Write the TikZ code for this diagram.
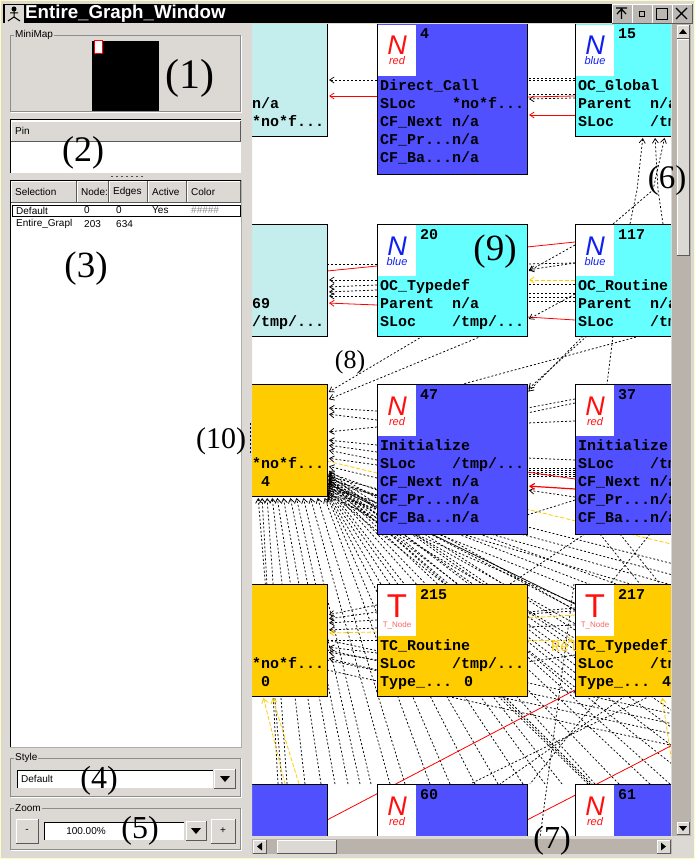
\documentclass[tikz,border=0pt]{standalone}
\usepackage{fontspec}
\setmainfont{Liberation Sans}
\newfontfamily\gfont{Liberation Mono}
\newfontfamily\numfont{Liberation Serif}
\usetikzlibrary{arrows.meta}
\pgfdeclarelayer{edges}
\pgfsetlayers{edges,main}
\definecolor{gblue}{HTML}{5050FF}
\definecolor{gcyan}{HTML}{66FFFF}
\definecolor{gpale}{HTML}{C4EEEE}
\definecolor{gyel}{HTML}{FFCC00}
\definecolor{uigray}{HTML}{DCD9D4}
\definecolor{uitrough}{HTML}{B9B3AB}
\definecolor{iconred}{HTML}{FF1010}
\definecolor{iconblue}{HTML}{1020F0}
\tikzset{
  gbox/.style={draw=black,line width=1pt,anchor=north west,minimum width=150pt,inner sep=0pt,outer sep=0pt},
  gicon/.style={fill=white,anchor=north west,minimum width=38pt,minimum height=51pt,inner sep=0pt,outer sep=0pt},
  gline/.style={anchor=base west,inner sep=0pt,font=\gfont\bfseries\fontsize{15}{18}\selectfont},
  gmark/.style={anchor=base,inner sep=0pt},
  gedge/.style={dash pattern=on 2pt off 2pt,line width=0.75pt},
  gtip/.style={-{Straight Barb[length=4.5pt,width=6pt]},shorten >=2pt},
  gred/.style={red,line width=0.8pt},
  gyell/.style={gyel,dash pattern=on 4pt off 2pt,line width=0.8pt},
  uilabel/.style={inner sep=0pt,anchor=west,font=\fontsize{10}{12}\selectfont},
  callout/.style={inner sep=0pt,font=\numfont\fontsize{#1}{#1}\selectfont},
}
\newcommand{\gd}{...}
\newcommand{\gnode}[6]{%
  \node[gbox,minimum height=#4pt,fill=#5] (#1) at (#2,#3) {};
  \foreach \gl [count=\gi] in {#6}
    \node[gline] (#1-l\gi) at ([shift={(3,{48+18*\gi})}]#1.north west) {\gl};
}
\newcommand{\gsign}[4]{%
  \node[gicon] (#1-icon) at ([shift={(1,1)}]#1.north west) {};
  \node[gmark,text=#2] (#1-sign) at ([shift={(20,31)}]#1.north west)
    {\itshape\makebox[0pt]{\fontsize{27}{27}\selectfont N}\raisebox{-10pt}{\makebox[0pt]{\fontsize{11}{11}\selectfont #3}}};
  \node[gline] (#1-num) at ([shift={(43,15)}]#1.north west) {#4};
}
\newcommand{\tsign}[2]{%
  \node[gicon] (#1-icon) at ([shift={(1,1)}]#1.north west) {};
  \node[gmark,text=iconred] (#1-sign) at ([shift={(20,33)}]#1.north west)
    {\makebox[0pt]{\fontsize{33}{33}\selectfont T}\raisebox{-10pt}{\makebox[0pt]{\color{iconred!65}\fontsize{8}{8}\selectfont T\_Node}}};
  \node[gline] (#1-num) at ([shift={(43,15)}]#1.north west) {#2};
}
\newcommand{\uibtn}[5][uigray]{%
  \fill[#1] (#2,#3) rectangle (#4,#5);
  \draw[white] (#2,#5) -- (#2,#3) -- (#4,#3);
  \draw[black!65] (#2,#5) -- (#4,#5) -- (#4,#3);
}
\newcommand{\uigroup}[5]{%
  \draw[black!45] (#1,#2) rectangle (#3,#4);
  \draw[white] (#1+1,#4+1) -- (#3+1,#4+1) -- (#3+1,#2+1);
  \node[uilabel,fill=uigray,inner xsep=1pt] (group#5) at (#1+4,#2) {#5};
}
\begin{document}
\begin{tikzpicture}[x=1pt,y=-1pt]
\useasboundingbox (0,0) rectangle (695,859);
\begin{pgfonlayer}{edges}
\fill[white] (252,24) rectangle (671,836);
\end{pgfonlayer}
\gnode{left1}{177}{24}{112}{gpale}{~,~~~~~~~~n/a,~~~~~~~~*no*f\gd}
\gnode{n4}{377}{24}{150}{gblue}{Direct\_Call,SLoc~~~~*no*f\gd,CF\_Next n/a,CF\_Pr\gd n/a,CF\_Ba\gd n/a}
\gsign{n4}{iconred}{red}{4}
\gnode{n15}{575}{24}{112}{gcyan}{OC\_Global,Parent~~n/a,SLoc~~~~/tm}
\gsign{n15}{iconblue}{blue}{15}
\gnode{n69}{177}{224}{112}{gpale}{~,~~~~~~~~69,~~~~~~~~/tmp/\gd}
\gnode{n20}{377}{224}{112}{gcyan}{OC\_Typedef,Parent~~n/a,SLoc~~~~/tmp/\gd}
\gsign{n20}{iconblue}{blue}{20}
\gnode{n117}{575}{224}{112}{gcyan}{OC\_Routine,Parent~~n/a,SLoc~~~~/tm}
\gsign{n117}{iconblue}{blue}{117}
\gnode{left3}{177}{384}{112}{gyel}{~,~~~~~~~~*no*f\gd,~~~~~~~~~4}
\gnode{n47}{377}{384}{150}{gblue}{Initialize,SLoc~~~~/tmp/\gd,CF\_Next n/a,CF\_Pr\gd n/a,CF\_Ba\gd n/a}
\gsign{n47}{iconred}{red}{47}
\gnode{n37}{575}{384}{150}{gblue}{Initialize,SLoc~~~~/tm,CF\_Next n/a,CF\_Pr\gd n/a,CF\_Ba\gd n/a}
\gsign{n37}{iconred}{red}{37}
\gnode{left4}{177}{584}{112}{gyel}{~,~~~~~~~~*no*f\gd,~~~~~~~~~0}
\gnode{n215}{377}{584}{112}{gyel}{TC\_Routine,SLoc~~~~/tmp/\gd,Type\_\gd{} 0}
\tsign{n215}{215}
\gnode{n217}{575}{584}{112}{gyel}{TC\_Typedef\_,SLoc~~~~/tm,Type\_\gd{} 4}
\tsign{n217}{217}
\gnode{left5}{177}{784}{150}{gblue}{~}
\gnode{n60}{377}{784}{150}{gblue}{~}
\gsign{n60}{iconred}{red}{60}
\gnode{n61}{575}{784}{150}{gblue}{~}
\gsign{n61}{iconred}{red}{61}
\begin{pgfonlayer}{edges}
\draw[gedge,gtip] (n4.west |- 0,80) -- (left1.east |- 0,80);
\draw[gred,gtip] (n4.west |- 0,96) -- (left1.east |- 0,96);
\foreach \ya in {78,80,94} \draw[gedge] (n15.west |- 0,\ya) -- (n4.east |- 0,\ya);
\draw[gedge,gtip] (n15.west |- 0,98) -- (n4.east |- 0,99);
\draw[gred] (n15.west |- 0,96) -- (n4.east |- 0,97);
\draw[gred,gtip] (n15.west |- 0,115) -- (n4.east |- 0,115);
\foreach \xa/\xb/\xm in {630/643/637,663/655/658,613/665/653}
  \draw[gedge,gtip] (\xa,0 |- n117.north) -- (\xm,190) -- (\xb,0 |- n15.south);
\draw[gedge] (n20.west |- 0,264) -- (n69.east |- 0,264);
\foreach \ya/\yb in {280/280,285/287,290/292,296/296}
  \draw[gedge,gtip] (n20.west |- 0,\ya) -- (n69.east |- 0,\yb);
\draw[gred] (n20.west |- 0,266) -- (n69.east |- 0,271);
\draw[gred,gtip] (n20.west |- 0,305) -- (n69.east |- 0,303);
\draw[gred] (n117.west |- 0,242) -- (n20.east |- 0,247);
\draw[gred] (n117.west |- 0,320) -- (n20.east |- 0,317);
\foreach \ya/\yb in {245/272,263/270,294/320}
  \draw[gedge,gtip] (n117.west |- 0,\ya) -- (n20.east |- 0,\yb);
\foreach \ya/\yb in {263/264,284/284,293/293,297/297,301/301}
  \draw[gedge] (n117.west |- 0,\ya) -- (n20.east |- 0,\yb);
\draw[gyell,gtip] (n117.west |- 0,280) -- (n20.east |- 0,280);
\draw[gedge,gtip] (423,0 |- n20.south) -- (left3.east |- 0,393);
\draw[gedge,gtip] (482,0 |- n20.south) -- (left3.east |- 0,400);
\foreach \xa/\ya in {587/390,583/393}
  \draw[gedge,gtip] (\xa,0 |- n117.south) -- (n47.east |- 0,\ya);
\draw[gedge] (640,0 |- n117.south) -- (463,0 |- n47.north);
\draw[gedge] (613,0 |- n117.south) -- (607,0 |- n37.north);
\foreach \ya/\yb in {427/432,445/440,452/445,460/450,465/458,478/466,490/472,495/478,411/408,420/414}
  \draw[gedge,gtip] (n47.west |- 0,\ya) -- (left3.east |- 0,\yb);
\draw[line width=0.7pt] (left3.east |- 0,483) -- (n217.west |- 0,604);
\foreach \ya/\yb in {403/413,399/408,421/423,460/458,468/468,470/470,472/472,474/474,476/476,500/515}
  \draw[gedge] (n37.west |- 0,\ya) -- (n47.east |- 0,\yb);
\draw[gedge,gtip] (n37.west |- 0,497) -- (n47.east |- 0,490);
\draw[gred] (n37.west |- 0,479) -- (n47.east |- 0,472);
\draw[gred,line width=1.2pt,gtip] (n37.west |- 0,489) -- (n47.east |- 0,486);
\draw[gyell] (left3.east |- 0,461) -- (n61.east |- 0,557);
\foreach \xa/\xb in {258/282,262/278,267/287,272/305,277/321,283/335,290/348,296/360,303/371,310/390,317/405,324/430}
  \draw[gedge,gtip] (\xb,0 |- left5.north) -- (\xa,0 |- left3.south);
\foreach \ya/\xb in {496/450,494/475,492/498,490/523,488/545,486/562,484/595,482/619,480/650,478/670}
  \draw[gedge,gtip] (\xb,0 |- n60.north) -- (left3.east |- 0,\ya);
\foreach \ya/\yb in {470/610,472/630,474/650,476/665,478/680,480/692}
  \draw[gedge,gtip] (n217.west |- 0,\yb) -- (left3.east |- 0,\ya);
\foreach \ya/\yb in {476/577,482/589,488/600,494/612,478/624,484/636,490/648,496/668,480/688,486/707,492/727,474/747,479/766,485/786,491/806}
  \draw[gedge] (n61.east |- 0,\yb) -- (left3.east |- 0,\ya);
\foreach \ya/\yb in {605/615,620/623,628/630,653/647,670/658,612/619,660/652}
  \draw[gedge,gtip] (n215.west |- 0,\ya) -- (left4.east |- 0,\yb);
\draw[gedge] (n215.west |- 0,640) -- (left4.east |- 0,640);
\draw[gyell,gtip] (n215.west |- 0,632) -- (left4.east |- 0,633);
\foreach \ya/\yb in {608/612,611/614,625/627,655/662}
  \draw[gedge] (n217.west |- 0,\ya) -- (n215.east |- 0,\yb);
\draw[gyell] (n217.west |- 0,615) -- (n215.east |- 0,618);
\draw[gyell,gtip] (n215.east |- 0,640) -- (n217.west |- 0,640);
\foreach \xa/\xb in {285/263,299/272}
  \draw[gyell,gtip] (\xa,0 |- left5.north) -- (\xb,0 |- left4.south);
\draw[gyell,gtip] (675,0 |- n61.north) -- (662,0 |- n217.south);
\draw[gred] (left5.east |- 0,820) -- (n217.west |- 0,690);
\draw[gred] (n60.east |- 0,820) -- (n61.east |- 0,718);
\draw[gedge] (574,0 |- n217.north) -- (527,0 |- n60.south);
\foreach \xa/\xb in {498/588,501/590,504/592}
  \draw[gedge] (\xa,0 |- n215.south) -- (\xb,0 |- n61.north);
\foreach \ya/\yb in {640/725,650/735,660/745,670/757}
  \draw[gedge] (left4.east |- 0,\ya) -- (n61.east |- 0,\yb);
\foreach \xa/\xb in {585/510,600/640,650/610,620/660}
  \draw[gedge] (\xa,0 |- n37.south) -- (\xb,0 |- n217.north);
\foreach \xa/\xb in {600/530,625/500,650/470}
  \draw[gedge] (\xa,0 |- n217.south) -- (\xb,0 |- n60.north);
\end{pgfonlayer}
\node[inner sep=0pt,anchor=base west,text=gyel,font=\gfont\fontsize{15}{18}\selectfont] (rel) at (551,651) {Rel};
\fill[uigray,even odd rule] (0,0) rectangle (695,859) (252,24) rectangle (671,836);
\draw[yellow!25,line width=2pt] (0,0) rectangle (695,859);
\fill[black] (3,4) rectangle (612,23);
\node[inner sep=0pt,anchor=west,text=white,font=\bfseries\fontsize{18.7}{19}\selectfont] (title) at (25,13.5) {Entire\_Graph\_Window};
\fill[uigray] (5,5) rectangle (24,23);
\fill[black] (14,9) circle (2.5);
\draw[black,line width=1pt] (14,11) -- (14,17) (8,21) -- (14,17) -- (20,21) (10,13) -- (18,13);
\foreach \xa in {612,632,652,672} \uibtn[uigray!85!black]{\xa}{4}{\xa+20}{23};
\draw[black,line width=1.2pt] (616,8) -- (627,8) (621.5,8) -- (621.5,19) (617,14) -- (621.5,9) -- (626,14);
\draw[black] (639,11) rectangle (644,16);
\draw[black,line width=0.8pt] (656,8) rectangle (667,19);
\draw[black,line width=1.3pt] (676,8) -- (687,19) (687,8) -- (676,19);
% minimap
\uigroup{10}{35}{240}{111}{MiniMap}
\fill[black] (92,41) rectangle (159,111);
\draw[red,fill=white,line width=1pt] (94.5,41) rectangle (102.5,54);
% pin
\fill[white] (10,119) rectangle (241,173);
\draw[black] (10,173) -- (10,119) -- (241,119);
\uibtn{11}{121}{240}{141}
\node[uilabel] (pin) at (15,131) {Pin};
\foreach \xa in {111,116,...,141} \fill[black!70] (\xa,175.5) rectangle (\xa+2,177);
% table
\fill[white] (10,180) rectangle (241,747);
\draw[black] (10,747) -- (10,180) -- (241,180);
\draw[uigray!80!black] (10,747) -- (241,747) -- (241,180);
\uibtn{11}{181}{76}{202}
\uibtn{77}{181}{108}{202}
\uibtn{109}{181}{147}{202}
\uibtn{148}{181}{186}{202}
\uibtn{187}{181}{240}{202}
\node[uilabel] (hselect) at (15,192) {Selection};
\node[uilabel] (hnodes) at (81,192) {Node:};
\node[uilabel] (hedges) at (113,192) {Edges};
\node[uilabel] (hactive) at (152,192) {Active};
\node[uilabel] (hcolor) at (191,192) {Color};
\draw[black,line width=0.8pt] (12,205) rectangle (240,216);
\node[uilabel] (rdefault) at (16,210.5) {Default};
\node[uilabel] (rn0) at (84,210.5) {0};
\node[uilabel] (re0) at (116,210.5) {0};
\node[uilabel] (ryes) at (152,210.5) {Yes};
\node[uilabel,text=black!45] (rcol) at (191,210.5) {\#\#\#\#\#};
\node[uilabel] (rgraph) at (16,224) {Entire\_Grapl};
\node[uilabel] (rn203) at (84,224) {203};
\node[uilabel] (re634) at (116,224) {634};
% style
\uigroup{10}{758}{240}{796}{Style}
\fill[white] (17,770) rectangle (213,788);
\draw[black] (17,788) -- (17,770) -- (213,770);
\node[uilabel] (stylevalue) at (21,779) {Default};
\uibtn{214}{769}{235}{788}
\fill[black] (220,776) -- (230,776) -- (225,782) -- cycle;
% zoom
\uigroup{10}{808}{240}{849}{Zoom}
\uibtn{16}{819}{38}{843}
\node[uilabel,anchor=center] (zminus) at (27,831) {-};
\fill[white] (44,822) rectangle (184,840);
\draw[black] (44,840) -- (44,822) -- (184,822);
\node[uilabel,anchor=center] (zoomvalue) at (86,831) {100.00\%};
\uibtn{186}{821}{206}{840}
\fill[black] (191,828) -- (201,828) -- (196,834) -- cycle;
\uibtn{211}{819}{235}{843}
\node[uilabel,anchor=center] (zplus) at (223,831) {+};
% scrollbars
\fill[uitrough] (672,24) rectangle (691,836);
\uibtn{677}{25}{689}{38}
\fill[black] (683,29) -- (679,34) -- (687,34) -- cycle;
\uibtn{677}{39}{689}{255}
\uibtn{677}{822}{689}{834}
\fill[black] (683,831) -- (679,826) -- (687,826) -- cycle;
\fill[uitrough] (252,839) rectangle (672,854);
\uibtn{253}{840}{266}{853}
\fill[black] (257,846.5) -- (262,842.5) -- (262,850.5) -- cycle;
\uibtn{277}{840}{336}{853}
\uibtn{657}{840}{670}{853}
\fill[black] (666,846.5) -- (661,842.5) -- (661,850.5) -- cycle;
% numbers
\draw[gedge] (250,423) -- (250,455);
\node[callout=42] (c1) at (190,78) {(1)};
\node[callout=36] (c2) at (83,153) {(2)};
\node[callout=37] (c3) at (86,269) {(3)};
\node[callout=32] (c4) at (99,781) {(4)};
\node[callout=32] (c5) at (140,831) {(5)};
\node[callout=33] (c6) at (667,181) {(6)};
\node[callout=32] (c7) at (552,841) {(7)};
\node[callout=26] (c8) at (350,362) {(8)};
\node[callout=37] (c9) at (495,252) {(9)};
\node[callout=30] (c10) at (221,441) {(10)};
\end{tikzpicture}
\end{document}
